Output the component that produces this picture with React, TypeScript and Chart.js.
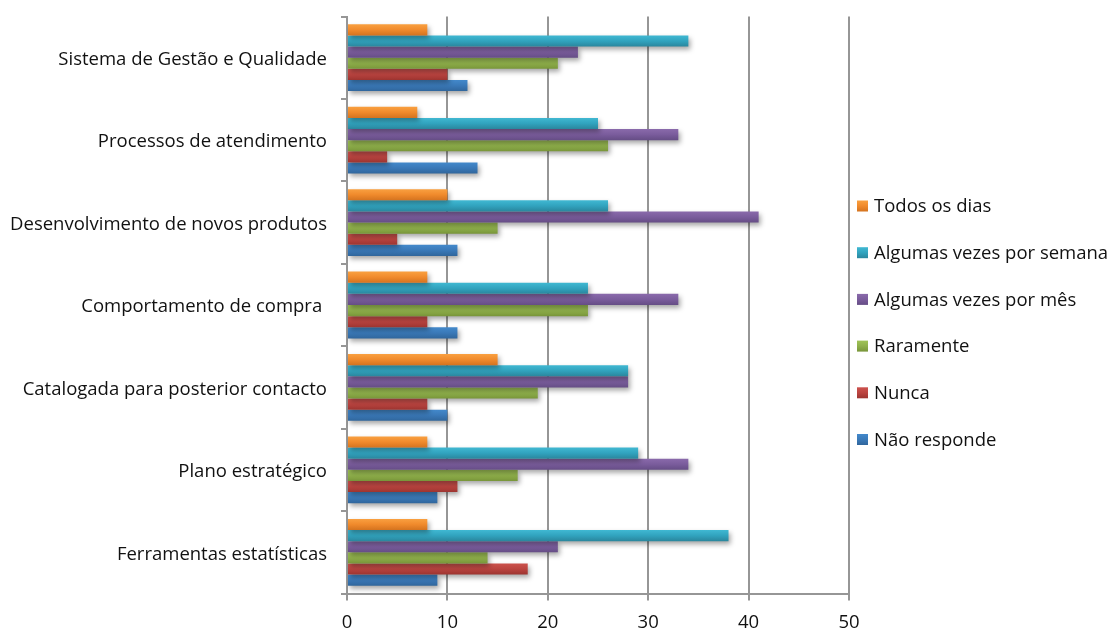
import { useEffect, useRef } from 'react';
import { Chart, registerables } from 'chart.js';

Chart.register(...registerables);

// Categories, top to bottom
const categories = [
  'Sistema de Gestão e Qualidade',
  'Processos de atendimento',
  'Desenvolvimento de novos produtos',
  'Comportamento de compra ',
  'Catalogada para posterior contacto',
  'Plano estratégico',
  'Ferramentas estatísticas',
];

// Series values, one per category
const todosOsDias = [8, 7, 10, 8, 15, 8, 8];
const algumasVezesPorSemana = [34, 25, 26, 24, 28, 29, 38];
const algumasVezesPorMes = [23, 33, 41, 33, 28, 34, 21];
const raramente = [21, 26, 15, 24, 19, 17, 14];
const nunca = [10, 4, 5, 8, 8, 11, 18];
const naoResponde = [12, 13, 11, 11, 10, 9, 9];

const seriesNames = [
  'Todos os dias',
  'Algumas vezes por semana',
  'Algumas vezes por mês',
  'Raramente',
  'Nunca',
  'Não responde',
];

const xTicks = [0, 10, 20, 30, 40, 50];

// Gradient stops (top, middle, bottom) per series
const palette = [
  ['#f9a040', '#f08a2c', '#d4731f'],
  ['#40b8d2', '#31a3be', '#2a869d'],
  ['#8a6aab', '#7a5c9c', '#654d85'],
  ['#a0c357', '#8fb04b', '#789539'],
  ['#cc524d', '#bb4440', '#9c3430'],
  ['#4389cb', '#3a79b8', '#30669c'],
];

const FONT_FAMILY = '"Open Sans", sans-serif';
const FONT_SIZE = 18.5;
const GRID = '#969696';

function makeGradient(ctx: CanvasRenderingContext2D, top: number, bottom: number, stops: string[]) {
  const g = ctx.createLinearGradient(0, top, 0, bottom);
  g.addColorStop(0, stops[0]);
  g.addColorStop(0.5, stops[1]);
  g.addColorStop(1, stops[2]);
  return g;
}

// Shaded bar fill plus a soft drop shadow under each series
const shadedBars = {
  id: 'shadedBars',
  beforeDatasetsDraw(chart: any) {
    const ctx = chart.ctx;
    chart.data.datasets.forEach((_ds: any, i: number) => {
      const meta = chart.getDatasetMeta(i);
      meta.data.forEach((el: any) => {
        const { y, height } = el.getProps(['y', 'height'], true);
        const g = makeGradient(ctx, y - height / 2, y + height / 2, palette[i]);
        el.options = { ...el.options, backgroundColor: g };
      });
    });
  },
  beforeDatasetDraw(chart: any) {
    const ctx = chart.ctx;
    ctx.save();
    ctx.shadowColor = 'rgba(0,0,0,0.35)';
    ctx.shadowBlur = 5;
    ctx.shadowOffsetX = 2;
    ctx.shadowOffsetY = 3;
  },
  afterDatasetDraw(chart: any) {
    chart.ctx.restore();
  },
};

// Vertical legend on the right side
const sideLegend = {
  id: 'sideLegend',
  afterDraw(chart: any) {
    const ctx = chart.ctx;
    const boxX = 857;
    const box = 11;
    const textX = 874;
    const firstY = 206;
    const step = 46.7;
    ctx.save();
    ctx.font = `${FONT_SIZE}px ${FONT_FAMILY}`;
    ctx.textBaseline = 'middle';
    ctx.textAlign = 'left';
    chart.data.datasets.forEach((ds: any, i: number) => {
      const cy = firstY + i * step;
      ctx.fillStyle = makeGradient(ctx, cy - box / 2, cy + box / 2, palette[i]);
      ctx.fillRect(boxX, cy - box / 2, box, box);
      ctx.fillStyle = '#111';
      ctx.fillText(ds.label, textX, cy + 1);
    });
    ctx.restore();
  },
};

export default function App() {
  const canvasRef = useRef<HTMLCanvasElement | null>(null);

  useEffect(() => {
    if (!canvasRef.current) return;
    const values = [todosOsDias, algumasVezesPorSemana, algumasVezesPorMes, raramente, nunca, naoResponde];
    const chart = new Chart(canvasRef.current, {
      type: 'bar',
      data: {
        labels: categories,
        datasets: seriesNames.map((name, i) => ({
          label: name,
          data: values[i],
          backgroundColor: palette[i][1],
          borderWidth: 0,
          categoryPercentage: 0.81,
          barPercentage: 1,
        })),
      },
      options: {
        indexAxis: 'y',
        animation: false,
        responsive: true,
        maintainAspectRatio: false,
        layout: { padding: { top: 16.5, right: 261, bottom: 0, left: 0 } },
        plugins: {
          legend: { display: false },
          tooltip: { enabled: false },
        },
        scales: {
          x: {
            type: 'linear',
            position: 'bottom',
            min: 0,
            max: 50,
            afterBuildTicks: (scale: any) => {
              scale.ticks = xTicks.map((v) => ({ value: v }));
            },
            afterFit: (scale: any) => {
              scale.height = 37.5;
            },
            grid: { color: GRID, lineWidth: 2, tickLength: 7, drawTicks: true },
            border: { color: GRID, width: 2 },
            ticks: {
              color: '#111',
              padding: 11,
              font: { family: FONT_FAMILY, size: FONT_SIZE },
            },
          },
          y: {
            type: 'category',
            afterFit: (scale: any) => {
              scale.width = 347;
              scale.paddingTop = 0;
              scale.paddingBottom = 0;
            },
            grid: { drawOnChartArea: false, color: GRID, lineWidth: 2, tickLength: 6 },
            border: { color: GRID, width: 2 },
            ticks: {
              color: '#111',
              padding: 14,
              labelOffset: 2,
              font: { family: FONT_FAMILY, size: FONT_SIZE },
            },
          },
        },
      },
      plugins: [shadedBars, sideLegend],
    });
    return () => chart.destroy();
  }, []);

  return (
    <div style={{ position: 'absolute', left: 0, top: 0, width: 1110, height: 631, background: '#fff' }}>
      <canvas ref={canvasRef} />
    </div>
  );
}
